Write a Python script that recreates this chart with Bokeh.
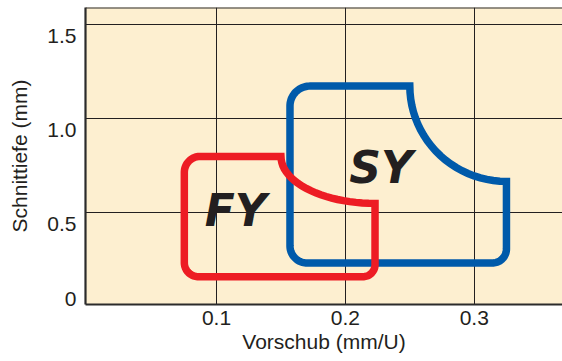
import numpy as np
from bokeh.plotting import figure
from bokeh.models import Range1d, FixedTicker, Span
from bokeh.embed import file_html
from bokeh.resources import INLINE
from bokeh.core.properties import value

# ---------------- data ----------------
x_ticks = [0.1, 0.2, 0.3]
x_tick_labels = ["0.1", "0.2", "0.3"]
y_ticks = [0, 0.5, 1.0, 1.5]
y_tick_labels = ["0", "0.5", "1.0", "1.5"]

grades = ["SY", "FY"]
feed_min = [0.157, 0.075]      # Vorschub min (mm/U)
feed_max = [0.325, 0.223]      # Vorschub max
depth_min = [0.233, 0.160]     # Schnittiefe min (mm)
depth_max = [1.174, 0.800]     # Schnittiefe max
feed_cut = [0.250, 0.150]      # feed where the upper edge starts to curve down
depth_cut = [0.667, 0.550]     # depth reached at max feed after the curve
label_x = [0.2277, 0.1148]
label_y = [0.741, 0.510]
colors = ["#005AAA", "#ED1C24"]

# ---------------- layout ----------------
W, H = 562, 361
BL, BB, BT, BR = 85, 57, 7, 0
FW, FH = W - BL - BR, H - BB - BT
X_START, X_END = -0.0017, 0.3685
Y_START, Y_END = 0.012, 1.592
SX = (X_END - X_START) / FW
SY = (Y_END - Y_START) / FH
corner_px = [(20, 17, 14), (16, 14, 12)]  # top-left, bottom-left, bottom-right radii (px)

TXT = "#231F20"
AX = "#2B2B2B"
FONT = "Liberation Sans"
FS = "21px"

p = figure(width=W, height=H, x_range=Range1d(X_START, X_END), y_range=Range1d(Y_START, Y_END),
           output_backend="svg", toolbar_location=None,
           min_border_left=BL, min_border_right=BR, min_border_top=BT, min_border_bottom=BB,
           background_fill_color="#FDEFD0", border_fill_color="white")
p.outline_line_color = None


def arc(cx, cy, rx, ry, a0, a1, n=24):
    t = np.radians(np.linspace(a0, a1, n))
    return list(cx + rx * np.cos(t)), list(cy + ry * np.sin(t))


def outline(i):
    x0, x1, y0, y1 = feed_min[i], feed_max[i], depth_min[i], depth_max[i]
    xc, yc = feed_cut[i], depth_cut[i]
    rtl, rbl, rbr = corner_px[i]
    xs, ys = [x0 + rtl * SX, xc], [y1, y1]
    # concave scoop at the top-right corner (quarter ellipse centred on the corner)
    ax, ay = arc(x1, y1, x1 - xc, y1 - yc, 180, 270)
    xs += ax; ys += ay
    # right edge down, bottom-right corner
    ax, ay = arc(x1 - rbr * SX, y0 + rbr * SY, rbr * SX, rbr * SY, 0, -90)
    xs += ax; ys += ay
    # bottom-left corner
    ax, ay = arc(x0 + rbl * SX, y0 + rbl * SY, rbl * SX, rbl * SY, -90, -180)
    xs += ax; ys += ay
    # top-left corner
    ax, ay = arc(x0 + rtl * SX, y1 - rtl * SY, rtl * SX, rtl * SY, 180, 90)
    xs += ax; ys += ay
    return xs, ys


for i in range(len(grades)):
    xs, ys = outline(i)
    p.patch(xs, ys, fill_color=None, line_color=colors[i], line_width=7.5, line_join="miter")

p.text(x=label_x, y=label_y, text=grades, text_font=value("DejaVu Sans"),
       text_font_style="bold italic", text_font_size="44px", text_color=TXT,
       text_align="center", text_baseline="middle")

# grid
p.xgrid.ticker = FixedTicker(ticks=x_ticks)
p.ygrid.ticker = FixedTicker(ticks=y_ticks[1:])
for g in (p.xgrid, p.ygrid):
    g.grid_line_color = TXT
    g.grid_line_width = 1
    g.grid_line_alpha = 1

# axes
p.xaxis.ticker = FixedTicker(ticks=x_ticks)
p.xaxis.major_label_overrides = {t: l for t, l in zip(x_ticks, x_tick_labels)}
# as in the original, depth labels hang ~11px below their grid value; "0" sits just above the bottom edge
y_label_pos = [round(y_ticks[0] + 7.5 * SY, 4)] + [round(t - 11 * SY, 4) for t in y_ticks[1:]]
p.yaxis.ticker = FixedTicker(ticks=y_label_pos)
p.yaxis.major_label_overrides = {t: l for t, l in zip(y_label_pos, y_tick_labels)}
for a in (p.xaxis, p.yaxis):
    a.axis_line_color = AX
    a.axis_line_width = 2.2
    a.major_tick_in = 0
    a.major_tick_out = 0
    a.minor_tick_line_color = None
    a.major_label_text_font = FONT
    a.major_label_text_font_size = FS
    a.major_label_text_color = TXT
    a.axis_label_text_font = FONT
    a.axis_label_text_font_size = FS
    a.axis_label_text_font_style = "normal"
    a.axis_label_text_color = TXT
p.xaxis.axis_label = "Vorschub (mm/U)"
p.yaxis.axis_label = "Schnittiefe (mm)"
p.xaxis.major_label_standoff = 6
p.xaxis.axis_label_standoff = 2
p.yaxis.major_label_standoff = 9
p.yaxis.axis_label_standoff = 13

# top frame line
p.add_layout(Span(location=Y_END, dimension="width", line_color=AX, line_width=2.2))

open("out.html", "w").write(file_html(p, INLINE))
